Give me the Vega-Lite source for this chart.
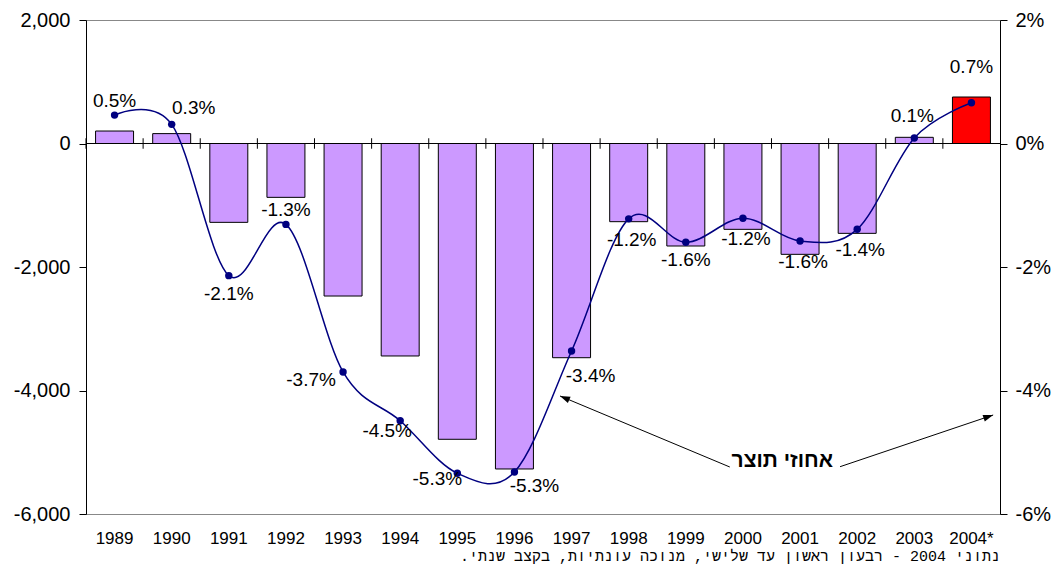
{
  "$schema": "https://vega.github.io/schema/vega-lite/v6.json",
  "width": 914,
  "height": 494,
  "autosize": {"type": "none"},
  "padding": {"left": 86, "top": 20, "right": 58, "bottom": 56},
  "background": "white",
  "config": {
    "font": "Liberation Sans",
    "view": {"stroke": "#888888", "strokeWidth": 1},
    "locale": {"number": {"decimal": ".", "thousands": ",", "grouping": [3], "currency": ["$", ""], "minus": "-"}},
    "axis": {"labelColor": "black", "domainColor": "black", "tickColor": "black", "labelFont": "Liberation Sans", "grid": false}
  },
  "title": {
    "text": "נתוני 2004 - רבעון ראשון עד שלישי, מנוכה עונתיות, בקצב שנתי.\u200f",
    "orient": "bottom", "anchor": "end", "frame": "group", "fontSize": 15, "fontWeight": "normal",
    "font": "Liberation Mono", "offset": 3, "color": "black"
  },
  "datasets": {
    "main": [
      {"year": "1989", "balance": 202, "pct": 0.0046},
      {"year": "1990", "balance": 160, "pct": 0.0031},
      {"year": "1991", "balance": -1277, "pct": -0.0214},
      {"year": "1992", "balance": -872, "pct": -0.0131},
      {"year": "1993", "balance": -2470, "pct": -0.0370},
      {"year": "1994", "balance": -3441, "pct": -0.0449},
      {"year": "1995", "balance": -4790, "pct": -0.0534},
      {"year": "1996", "balance": -5271, "pct": -0.0532},
      {"year": "1997", "balance": -3469, "pct": -0.0336},
      {"year": "1998", "balance": -1266, "pct": -0.0122},
      {"year": "1999", "balance": -1660, "pct": -0.0160},
      {"year": "2000", "balance": -1390, "pct": -0.0121},
      {"year": "2001", "balance": -1795, "pct": -0.0158},
      {"year": "2002", "balance": -1455, "pct": -0.0139},
      {"year": "2003", "balance": 100, "pct": 0.0009},
      {"year": "2004*", "balance": 753, "pct": 0.0066}
    ],
    "arrows": [
      {"name": "left", "x": 11.27, "y": -5.239, "x2": 8.298, "y2": -4.089},
      {"name": "right", "x": 13.2, "y": -5.234, "x2": 15.88, "y2": -4.397}
    ],
    "note": [
      {"x": 12.19, "y": -5.14, "label": "אחוזי תוצר"}
    ]
  },
  "resolve": {"scale": {"x": "independent", "y": "independent"}},
  "layer": [
    {
      "data": {"name": "main"},
      "resolve": {"scale": {"y": "independent"}},
      "layer": [
        {
          "layer": [
            {
              "mark": {"type": "bar", "stroke": "black", "strokeWidth": 1},
              "encoding": {
                "x": {
                  "field": "year", "type": "nominal", "sort": null,
                  "scale": {"type": "band", "paddingInner": 0.335, "paddingOuter": 0.1675},
                  "axis": {"orient": "bottom", "domain": false, "ticks": false, "labelAngle": 0, "labelFontSize": 17, "labelPadding": 16, "title": null}
                },
                "y": {
                  "field": "balance", "type": "quantitative",
                  "scale": {"domain": [-6000, 2000], "nice": false},
                  "axis": {"orient": "left", "values": [-6000, -4000, -2000, 0, 2000], "format": ",.0f", "tickSize": 7, "labelPadding": 9, "labelFontSize": 20, "title": null}
                },
                "color": {"condition": {"test": "datum.year == '2004*'", "value": "#FF0000"}, "value": "#CC99FF"}
              }
            },
            {
              "data": {"values": [{}]},
              "mark": {"type": "rule", "color": "black", "strokeWidth": 1},
              "encoding": {"y": {"datum": 0}}
            },
            {
              "mark": {"type": "rule", "color": "black", "strokeWidth": 1},
              "encoding": {
                "x": {"field": "year", "type": "nominal", "sort": null, "bandPosition": -0.252},
                "y": {"datum": 85},
                "y2": {"datum": -85}
              }
            }
          ]
        },
        {
          "encoding": {
            "x": {"field": "year", "type": "nominal", "sort": null},
            "y": {
              "field": "pct", "type": "quantitative",
              "scale": {"domain": [-0.06, 0.02], "nice": false},
              "axis": {"orient": "right", "values": [-0.06, -0.04, -0.02, 0, 0.02], "format": ".0%", "tickSize": 7, "labelPadding": 8, "labelFontSize": 20, "title": null}
            }
          },
          "layer": [
            {"mark": {"type": "line", "color": "#000080", "strokeWidth": 1.5, "interpolate": "cardinal"}},
            {"mark": {"type": "circle", "color": "#000080", "size": 55, "opacity": 1}},
            {
              "transform": [{"filter": {"field": "year", "oneOf": ["1989", "1992"]}}],
              "mark": {"type": "text", "fontSize": 19, "dy": -14, "color": "black"},
              "encoding": {"text": {"field": "pct", "format": ".1%"}}
            },
            {
              "transform": [{"filter": {"field": "year", "oneOf": ["1990"]}}],
              "mark": {"type": "text", "fontSize": 19, "dx": 22, "dy": -16, "color": "black"},
              "encoding": {"text": {"field": "pct", "format": ".1%"}}
            },
            {
              "transform": [{"filter": {"field": "year", "oneOf": ["2003"]}}],
              "mark": {"type": "text", "fontSize": 19, "dx": -2, "dy": -22, "color": "black"},
              "encoding": {"text": {"field": "pct", "format": ".1%"}}
            },
            {
              "transform": [{"filter": {"field": "year", "oneOf": ["2004*"]}}],
              "mark": {"type": "text", "fontSize": 19, "dy": -36, "color": "black"},
              "encoding": {"text": {"field": "pct", "format": ".1%"}}
            },
            {
              "transform": [{"filter": {"field": "year", "oneOf": ["1991", "1999"]}}],
              "mark": {"type": "text", "fontSize": 19, "dy": 18, "color": "black"},
              "encoding": {"text": {"field": "pct", "format": ".1%"}}
            },
            {
              "transform": [{"filter": {"field": "year", "oneOf": ["1998", "2000", "2001", "2002"]}}],
              "mark": {"type": "text", "fontSize": 19, "dx": 3, "dy": 21, "color": "black"},
              "encoding": {"text": {"field": "pct", "format": ".1%"}}
            },
            {
              "transform": [{"filter": {"field": "year", "oneOf": ["1993"]}}],
              "mark": {"type": "text", "fontSize": 19, "dx": -32, "dy": 8, "color": "black"},
              "encoding": {"text": {"field": "pct", "format": ".1%"}}
            },
            {
              "transform": [{"filter": {"field": "year", "oneOf": ["1994"]}}],
              "mark": {"type": "text", "fontSize": 19, "dx": -13, "dy": 10, "color": "black"},
              "encoding": {"text": {"field": "pct", "format": ".1%"}}
            },
            {
              "transform": [{"filter": {"field": "year", "oneOf": ["1995"]}}],
              "mark": {"type": "text", "fontSize": 19, "dx": -20, "dy": 6, "color": "black"},
              "encoding": {"text": {"field": "pct", "format": ".1%"}}
            },
            {
              "transform": [{"filter": {"field": "year", "oneOf": ["1996"]}}],
              "mark": {"type": "text", "fontSize": 19, "dx": 20, "dy": 14, "color": "black"},
              "encoding": {"text": {"field": "pct", "format": ".1%"}}
            },
            {
              "transform": [{"filter": {"field": "year", "oneOf": ["1997"]}}],
              "mark": {"type": "text", "fontSize": 19, "dx": 19, "dy": 25, "color": "black"},
              "encoding": {"text": {"field": "pct", "format": ".1%"}}
            }
          ]
        }
      ]
    },
    {
      "data": {"name": "arrows"},
      "layer": [
        {
          "mark": {"type": "rule", "color": "black", "strokeWidth": 1},
          "encoding": {
            "x": {"field": "x", "type": "quantitative", "scale": {"domain": [0, 16], "nice": false, "zero": false}, "axis": null},
            "y": {"field": "y", "type": "quantitative", "scale": {"domain": [-6, 2], "nice": false, "zero": false}, "axis": null},
            "x2": {"field": "x2"},
            "y2": {"field": "y2"}
          }
        },
        {
          "transform": [{"filter": "datum.name == 'left'"}],
          "mark": {"type": "point", "shape": "M0,0L-0.35,1L0.35,1Z", "filled": true, "color": "black", "opacity": 1, "size": 400, "angle": 292.8},
          "encoding": {
            "x": {"field": "x2", "type": "quantitative"},
            "y": {"field": "y2", "type": "quantitative"}
          }
        },
        {
          "transform": [{"filter": "datum.name == 'right'"}],
          "mark": {"type": "point", "shape": "M0,0L-0.35,1L0.35,1Z", "filled": true, "color": "black", "opacity": 1, "size": 400, "angle": 71.4},
          "encoding": {
            "x": {"field": "x2", "type": "quantitative"},
            "y": {"field": "y2", "type": "quantitative"}
          }
        },
        {
          "data": {"name": "note"},
          "mark": {"type": "text", "fontSize": 21, "fontWeight": "bold", "color": "black", "font": "Liberation Sans"},
          "encoding": {
            "x": {"field": "x", "type": "quantitative"},
            "y": {"field": "y", "type": "quantitative"},
            "text": {"field": "label"}
          }
        }
      ]
    }
  ]
}
